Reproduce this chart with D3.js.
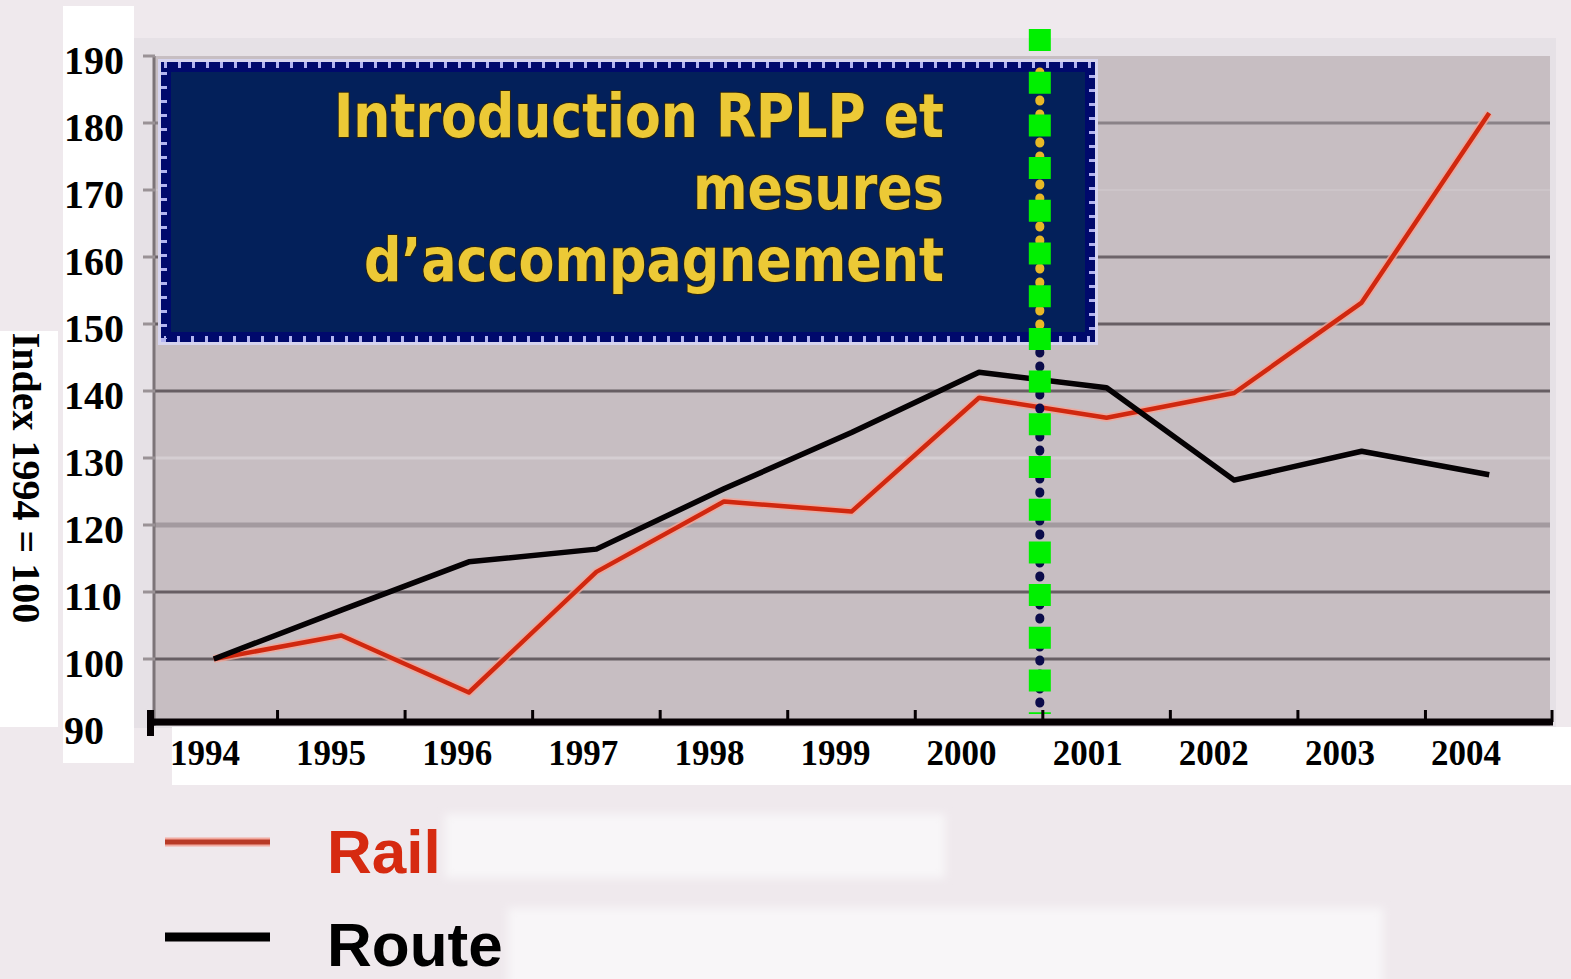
<!DOCTYPE html>
<html>
<head>
<meta charset="utf-8">
<script src="https://cdn.jsdelivr.net/npm/d3@7"></script>
<style>
  html, body { margin: 0; padding: 0; background: #efe9ed; }
  svg { display: block; }
</style>
</head>
<body>
<script>
// data (index 1994 = 100)
const years = [1994, 1995, 1996, 1997, 1998, 1999, 2000, 2001, 2002, 2003, 2004];
const rail = [100, 103.5, 95, 113, 123.5, 122, 139, 136, 139.7, 153.2, 181.5];
const route = [100, 107.3, 114.5, 116.4, 125.4, 133.8, 142.8, 140.5, 126.7, 131, 127.5];
const yTicks = [90, 100, 110, 120, 130, 140, 150, 160, 170, 180, 190];
const boxLines = ["Introduction RPLP et", "mesures", "d\u2019accompagnement"];
const legendItems = ["Rail", "Route"];
const yTitle = "Index 1994 = 100";
const markerYear = 2001;

const W = 1571, H = 979;

const svg = d3.select("body").append("svg")
  .attr("width", W)
  .attr("height", H);

let defs = svg.append("defs");
defs.append("filter").attr("id", "blur")
  .append("feGaussianBlur").attr("stdDeviation", 4);

// scales
const x = d3.scaleBand().domain(years).range([150, 1553]).padding(0);
const xc = d => x(d) + x.bandwidth() / 2;
const xLabel = d3.scalePoint().domain(years).range([205, 1466]);
const y = d3.scaleLinear().domain([90, 190]).range([726, 56]);

// background pieces
svg.append("rect").attr("x", 0).attr("y", 0).attr("width", W).attr("height", H).attr("fill", "#efe9ed");
svg.append("rect").attr("x", 134).attr("y", 38).attr("width", 1422).attr("height", 690).attr("fill", "#e6e1e6");

// plot area
svg.append("rect")
  .attr("x", 155).attr("y", y(190))
  .attr("width", 1395).attr("height", y(90) - y(190))
  .attr("fill", "#c7bec2");

// gridlines, each with its own look in the scan
const gridStyle = {
  100: ["#675e63", 3], 110: ["#675e63", 3], 120: ["#a39a9f", 5], 130: ["#d5ced2", 3],
  140: ["#675e63", 3], 150: ["#675e63", 3], 160: ["#6d6469", 3], 170: ["#cdc5c9", 2],
  180: ["#8a8287", 3]
};
svg.append("g").selectAll("line")
  .data(yTicks.filter(v => v > 90 && v < 190))
  .enter().append("line")
  .attr("x1", 155).attr("x2", 1550)
  .attr("y1", d => y(d)).attr("y2", d => y(d))
  .attr("stroke", d => gridStyle[d][0])
  .attr("stroke-width", d => gridStyle[d][1]);

// left axis line + tick stubs
svg.append("line")
  .attr("x1", 154).attr("x2", 154).attr("y1", y(190)).attr("y2", y(90))
  .attr("stroke", "#7c7478").attr("stroke-width", 3);
svg.append("g").selectAll("line")
  .data(yTicks.filter(v => v > 90))
  .enter().append("line")
  .attr("x1", 143).attr("x2", 155)
  .attr("y1", d => y(d)).attr("y2", d => y(d))
  .attr("stroke", "#9a9296").attr("stroke-width", 3);

// white label panels
svg.append("rect").attr("x", 63).attr("y", 6).attr("width", 71).attr("height", 757).attr("fill", "#ffffff");
svg.append("rect").attr("x", 0).attr("y", 331).attr("width", 58).attr("height", 396).attr("fill", "#ffffff");
svg.append("rect").attr("x", 172).attr("y", 727).attr("width", 1399).attr("height", 58).attr("fill", "#ffffff");

// navy annotation box
const box = {x: 161, y: 62, w: 934, h: 280};
svg.append("rect")
  .attr("x", box.x - 3).attr("y", box.y - 3).attr("width", box.w + 6).attr("height", box.h + 6)
  .attr("fill", "#d6d4ee");
svg.append("rect")
  .attr("x", box.x).attr("y", box.y).attr("width", box.w).attr("height", box.h)
  .attr("fill", "#03205a");
svg.append("rect")
  .attr("x", box.x + 5).attr("y", box.y + 5).attr("width", box.w - 10).attr("height", box.h - 10)
  .attr("fill", "none").attr("stroke", "#00096c").attr("stroke-width", 10);
svg.append("rect")
  .attr("x", box.x + 3).attr("y", box.y + 3).attr("width", box.w - 6).attr("height", box.h - 6)
  .attr("fill", "none").attr("stroke", "#b3b4ef").attr("stroke-width", 6)
  .attr("stroke-dasharray", "3 11");

const lineLen = [610, 251, 580];
svg.append("g").selectAll("text")
  .data(boxLines)
  .enter().append("text")
  .attr("x", 944)
  .attr("y", (d, i) => 137 + i * 72)
  .attr("text-anchor", "end")
  .attr("textLength", (d, i) => lineLen[i])
  .attr("lengthAdjust", "spacingAndGlyphs")
  .style("font-family", "'DejaVu Sans Condensed', 'DejaVu Sans', sans-serif")
  .style("font-weight", "bold")
  .style("font-size", "61px")
  .style("fill", "#ecc936")
  .style("stroke", "#2a2412")
  .style("stroke-width", 2)
  .style("paint-order", "stroke")
  .text(d => d);

// series lines
const line = d3.line().x((d, i) => xc(years[i])).y(d => y(d));

svg.append("path").datum(rail)
  .attr("d", line).attr("fill", "none")
  .attr("stroke", "#f3a597").attr("stroke-width", 8).attr("stroke-linejoin", "round").attr("opacity", 0.8);
svg.append("path").datum(rail)
  .attr("d", line).attr("fill", "none")
  .attr("stroke", "#d0280f").attr("stroke-width", 4.5).attr("stroke-linejoin", "round");
svg.append("path").datum(route)
  .attr("d", line).attr("fill", "none")
  .attr("stroke", "#050204").attr("stroke-width", 5.5).attr("stroke-linejoin", "round");

// marker line (old dotted line underneath, green dashes on top)
const mx = x(markerYear) - 3;
svg.append("line")
  .attr("x1", mx).attr("x2", mx).attr("y1", 72).attr("y2", 338)
  .attr("stroke", "#e8b826").attr("stroke-width", 9)
  .attr("stroke-linecap", "round").attr("stroke-dasharray", "1 13");
svg.append("line")
  .attr("x1", mx).attr("x2", mx).attr("y1", 352).attr("y2", 716)
  .attr("stroke", "#0b0c4a").attr("stroke-width", 9)
  .attr("stroke-linecap", "round").attr("stroke-dasharray", "1 13");
svg.append("line")
  .attr("x1", mx).attr("x2", mx).attr("y1", 29).attr("y2", 714)
  .attr("stroke", "#00f000").attr("stroke-width", 22)
  .attr("stroke-dasharray", "22 20.7");

// x axis
const axisY = y(90) - 4;
svg.append("line")
  .attr("x1", 148).attr("x2", 1553).attr("y1", axisY).attr("y2", axisY)
  .attr("stroke", "#050002").attr("stroke-width", 7);
svg.append("rect").attr("x", 147).attr("y", axisY - 12).attr("width", 7).attr("height", 26).attr("fill", "#050002");
svg.append("g").selectAll("line")
  .data(years.slice(1).concat(["end"]))
  .enter().append("line")
  .attr("x1", d => d === "end" ? 1552 : x(d)).attr("x2", d => d === "end" ? 1552 : x(d))
  .attr("y1", axisY - 12).attr("y2", axisY)
  .attr("stroke", "#050002").attr("stroke-width", 3);

svg.append("g").selectAll("text")
  .data(years)
  .enter().append("text")
  .attr("x", d => xLabel(d))
  .attr("y", 765)
  .attr("text-anchor", "middle")
  .style("font-family", "'Liberation Serif', 'Times New Roman', serif")
  .style("font-weight", "bold")
  .style("font-size", "35px")
  .style("fill", "#000")
  .text(d => d);

// y labels
svg.append("g").selectAll("text")
  .data(yTicks)
  .enter().append("text")
  .attr("x", 64)
  .attr("y", d => y(d) + 18)
  .style("font-family", "'Liberation Serif', 'Times New Roman', serif")
  .style("font-weight", "bold")
  .style("font-size", "40px")
  .style("fill", "#000")
  .text(d => d);

svg.append("text")
  .attr("transform", "translate(13,478) rotate(90)")
  .attr("text-anchor", "middle")
  .style("font-family", "'Liberation Serif', 'Times New Roman', serif")
  .style("font-weight", "bold")
  .style("font-size", "40px")
  .style("fill", "#000")
  .text(yTitle);

// legend
svg.append("rect").attr("x", 445).attr("y", 814).attr("width", 500).attr("height", 64)
  .attr("fill", "#f8f6f8").attr("filter", "url(#blur)");
svg.append("rect").attr("x", 508).attr("y", 908).attr("width", 875).attr("height", 80)
  .attr("fill", "#f8f6f8").attr("filter", "url(#blur)");

const legColor = ["#d62a10", "#000000"];
const legY = [842, 937];
svg.append("line").attr("x1", 165).attr("x2", 270).attr("y1", legY[0]).attr("y2", legY[0])
  .attr("stroke", "#f2aaa0").attr("stroke-width", 9);
svg.append("line").attr("x1", 165).attr("x2", 270).attr("y1", legY[0]).attr("y2", legY[0])
  .attr("stroke", "#b83a26").attr("stroke-width", 5);
svg.append("line").attr("x1", 165).attr("x2", 270).attr("y1", legY[1]).attr("y2", legY[1])
  .attr("stroke", "#000").attr("stroke-width", 9);

svg.append("g").selectAll("text")
  .data(legendItems)
  .enter().append("text")
  .attr("x", 327)
  .attr("y", (d, i) => legY[i] + (i === 0 ? 31 : 29))
  .style("font-family", "'Liberation Sans', Arial, sans-serif")
  .style("font-weight", "bold")
  .style("font-size", "62px")
  .style("fill", (d, i) => legColor[i])
  .text(d => d);
</script>
</body>
</html>
